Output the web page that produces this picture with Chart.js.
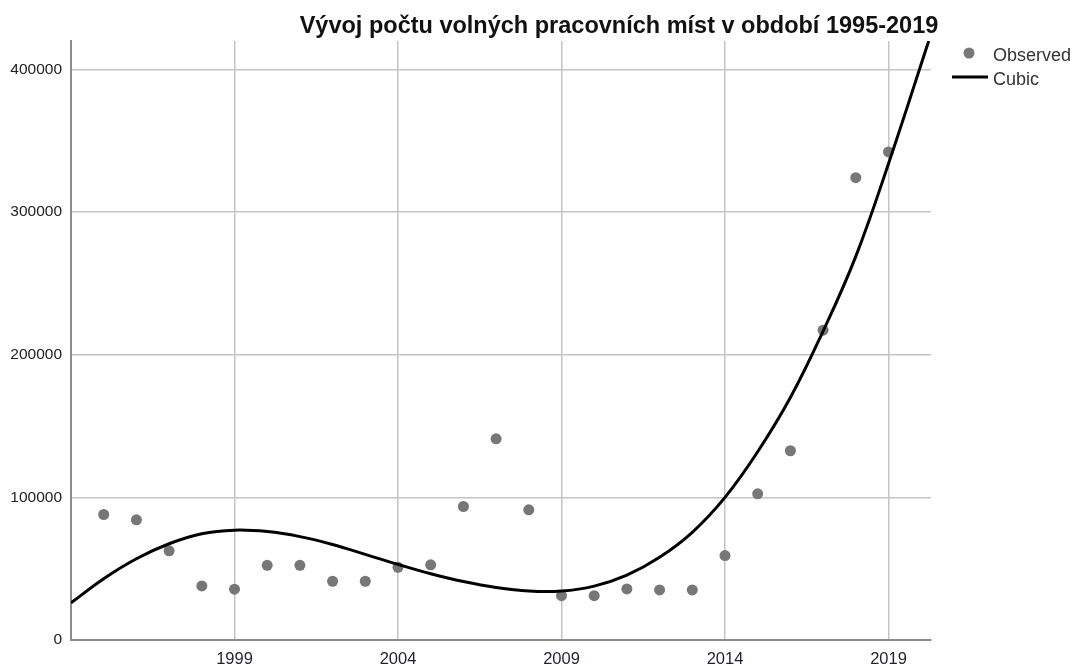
<!DOCTYPE html>
<html>
<head>
<meta charset="utf-8">
<title>Vývoj počtu volných pracovních míst</title>
<script src="https://cdn.jsdelivr.net/npm/chart.js@4.4.1/dist/chart.umd.min.js"></script>
<style>
  body { margin: 0; background: #fff; }
  #wrap { width: 1072px; height: 666px; }
</style>
</head>
<body>
<div id="wrap"><canvas id="graf" width="1072" height="666"></canvas></div>
<script>
const chartTitle = "Vývoj počtu volných pracovních míst v období 1995-2019";

// pozorovane hodnoty
const years = [1995, 1996, 1997, 1998, 1999, 2000, 2001, 2002, 2003, 2004, 2005, 2006, 2007,
  2008, 2009, 2010, 2011, 2012, 2013, 2014, 2015, 2016, 2017, 2018, 2019];
const observed = [88000, 84300, 62500, 37900, 35600, 52400, 52400, 41200, 41200, 51000, 52700, 93600, 141100,
  91300, 31100, 31100, 35800, 35100, 35100, 59200, 102500, 132700, 217200, 324200, 342200];

// kubicka krivka, body
const cubicYears = [1994, 1995, 1996, 1997, 1998, 1999, 2000, 2001, 2002, 2003, 2004, 2005, 2006,
  2007, 2008, 2009, 2010, 2011, 2012, 2013, 2014, 2015, 2016, 2017, 2018, 2019, 2020.23];
const cubicValues = [26000, 43000, 57000, 67500, 74500, 77000, 76000, 72500, 67000, 60000, 53000, 46500, 41000,
  36800, 34300, 34300, 37800, 45500, 58000, 75500, 100000, 132000, 170000, 216500, 269000, 334000, 420000];

const xTicks = [1999, 2004, 2009, 2014, 2019];
const yTicks = [0, 100000, 200000, 300000, 400000];

const els = { graf: null };

const titlePlugin = {
  id: "plotTitle",
  afterDraw(chart) {
    const ctx = chart.ctx;
    ctx.save();
    ctx.font = "bold 23.5px 'Liberation Sans', Arial, sans-serif";
    ctx.fillStyle = "#111";
    ctx.textAlign = "center";
    ctx.textBaseline = "alphabetic";
    ctx.fillText(chartTitle, 619, 33);
    ctx.restore();
  }
};

const legendPlugin = {
  id: "sideLegend",
  afterDraw(chart) {
    const ctx = chart.ctx;
    const [obs, cub] = chart.data.datasets;
    ctx.save();
    ctx.fillStyle = obs.backgroundColor;
    ctx.beginPath();
    ctx.arc(969, 53, 5.5, 0, Math.PI * 2);
    ctx.fill();

    ctx.strokeStyle = cub.borderColor;
    ctx.lineWidth = cub.borderWidth;
    ctx.beginPath();
    ctx.moveTo(952, 77);
    ctx.lineTo(988, 77);
    ctx.stroke();

    ctx.font = "18px 'Liberation Sans', Arial, sans-serif";
    ctx.fillStyle = "#333";
    ctx.textAlign = "left";
    ctx.textBaseline = "middle";
    ctx.fillText(obs.label, 993, 56);
    ctx.fillText(cub.label, 993, 80);
    ctx.restore();
  }
};

document.addEventListener("DOMContentLoaded", () => {
  const ctx = document.getElementById("graf").getContext("2d");
  els.graf = new Chart(ctx, {
    type: "scatter",
    data: {
      datasets: [
        {
          label: "Observed",
          data: years.map((y, i) => ({ x: y, y: observed[i] })),
          backgroundColor: "#777777",
          borderWidth: 0,
          pointRadius: 5.5,
          order: 2
        },
        {
          label: "Cubic",
          data: cubicYears.map((y, i) => ({ x: y, y: cubicValues[i] })),
          showLine: true,
          borderColor: "#000000",
          borderWidth: 3,
          pointRadius: 0,
          tension: 0.4,
          fill: false,
          order: 1
        }
      ]
    },
    options: {
      responsive: false,
      animation: false,
      layout: { padding: { top: 41, right: 141, left: 0, bottom: 0 } },
      plugins: {
        legend: { display: false },
        title: { display: false },
        tooltip: { enabled: false }
      },
      scales: {
        x: {
          type: "linear",
          min: 1994,
          max: 2020.3,
          afterBuildTicks: s => { s.ticks = xTicks.map(v => ({ value: v })); },
          afterFit: s => { s.height = 26; },
          grid: { color: "#c4c4c4", lineWidth: 1.5, drawTicks: false },
          border: { color: "#8c8c8c", width: 2 },
          ticks: {
            padding: 10,
            color: "#1e2235",
            font: { family: "'Liberation Sans', Arial, sans-serif", size: 16.5 },
            callback: v => String(v),
            maxRotation: 0
          }
        },
        y: {
          min: 0,
          max: 420000,
          afterBuildTicks: s => { s.ticks = yTicks.map(v => ({ value: v })); },
          afterFit: s => { s.width = 71; },
          grid: { color: "#c4c4c4", lineWidth: 1.5, drawTicks: false },
          border: { color: "#8c8c8c", width: 2 },
          ticks: {
            padding: 9,
            color: "#222",
            font: { family: "'Liberation Sans', Arial, sans-serif", size: 15.5 },
            callback: v => String(v)
          }
        }
      }
    },
    plugins: [titlePlugin, legendPlugin]
  });
});
</script>
</body>
</html>
